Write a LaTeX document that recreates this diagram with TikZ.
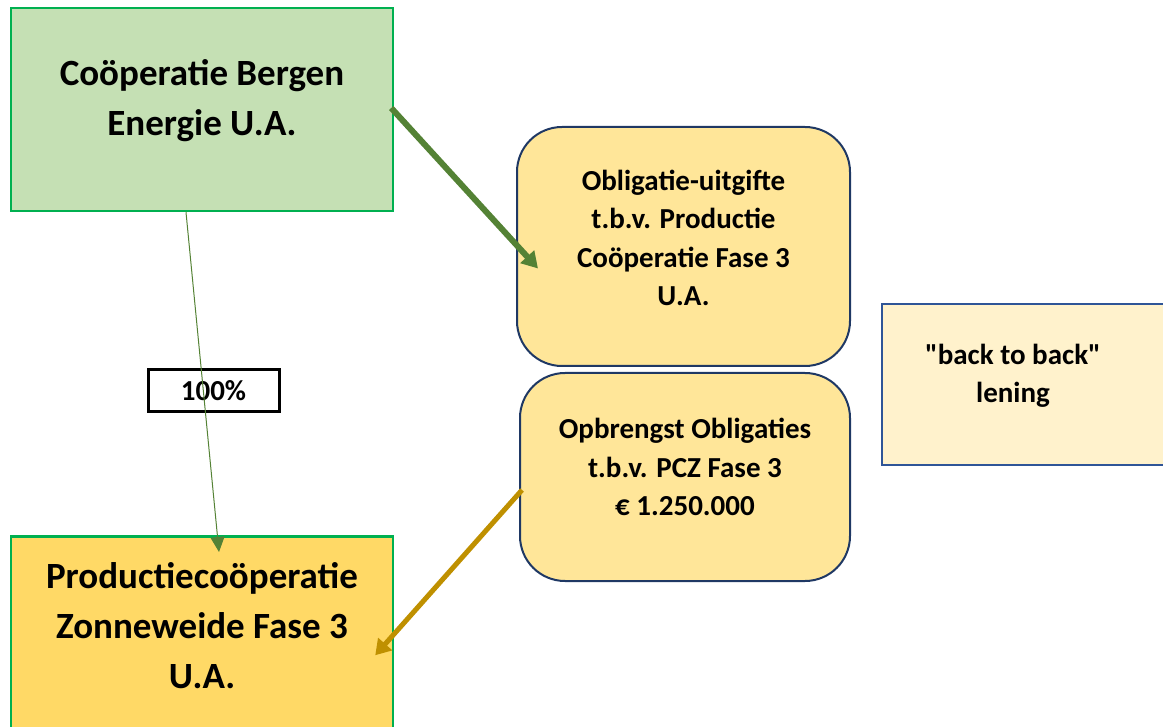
\documentclass[tikz,border=0pt]{standalone}
\usepackage{fontspec}
\setmainfont{Carlito}
\usetikzlibrary{arrows.meta,calc}

\definecolor{leafgreen}{HTML}{C5E0B4}
\definecolor{brightgreen}{HTML}{00B050}
\definecolor{arrowgreen}{HTML}{548235}
\definecolor{sungold}{HTML}{FFD966}
\definecolor{paleyellow}{HTML}{FFE699}
\definecolor{creamfill}{HTML}{FFF2CC}
\definecolor{navyline}{HTML}{1F3864}
\definecolor{blueline}{HTML}{2F5597}
\definecolor{darkgold}{HTML}{BF9000}

\begin{document}
\begin{tikzpicture}[x=1pt, y=-1pt,
		bigtext/.style={font=\bfseries\fontsize{37}{50}\selectfont, align=center},
		smalltext/.style={font=\bfseries\fontsize{29}{38.5}\selectfont, align=center},
		greenbox/.style={draw=brightgreen, line width=2.5pt, inner sep=0pt},
		roundbox/.style={draw=navyline, fill=paleyellow, line width=2pt, rounded corners=45pt, inner sep=0pt},
		share/.style={draw=black, fill=white, line width=3pt, inner sep=0pt}]
			%%%%% START %%%%%
			\useasboundingbox (0,0) rectangle (1163,727);
			\clip (0,0) rectangle (1163,727);
			
			% left column
			\node[greenbox, fill=leafgreen, minimum width=382pt, minimum height=203pt] (cbebox) at (202,109.5) {};
			\node[bigtext] (cbe) at (202,101) {Coöperatie Bergen\\Energie U.A.};
			
			\node[greenbox, fill=sungold, minimum width=382pt, minimum height=230pt, anchor=north] (pczbox) at (202,535) {};
			\node[bigtext] (pcz) at (202,626) {Productiecoöperatie\\Zonneweide Fase 3\\U.A.};
			
			% bonds
			\node[roundbox, minimum width=333pt, minimum height=239pt] (obl) at (683.5,246.5) {};
			\node[smalltext] (obltext) at (683.5,238) {Obligatie-uitgifte\\t.b.v. Productie\\Coöperatie Fase 3\\U.A.};
			
			\node[roundbox, minimum width=330pt, minimum height=208pt] (opb) at (685,477) {};
			\node[smalltext] (opbtext) at (685,467) {Opbrengst Obligaties\\t.b.v. PCZ Fase 3\\€ 1.250.000};
			
			% loan
			\node[draw=blueline, fill=creamfill, line width=2pt, inner sep=0pt, minimum width=330pt, minimum height=161pt, anchor=west] (btbbox) at (881,384.5) {};
			\node[smalltext] (btb) at (1013,376) {\textquotedbl back to back\textquotedbl\\lening};
			
			% 100% share
			\node[share, smalltext, minimum width=131pt, minimum height=42pt] (pct) at (213.5,391) {100\%};
			
			% connectors
			\draw[arrowgreen, line width=1pt, -{Triangle[length=15pt,width=14pt]}]
				([xshift=-16pt]cbebox.south) -- ([xshift=17pt,yshift=-17pt]pczbox.north);
			\draw[arrowgreen, line width=6pt, -{Triangle[length=16pt,width=18pt]}]
				([xshift=-3pt,yshift=1.5pt]cbebox.east) -- ([xshift=22pt,yshift=-22pt]obl.west);
			\draw[darkgold, line width=5pt, -{Triangle[length=15pt,width=18pt]}]
				([xshift=3pt,yshift=-13pt]opb.west) -- ([xshift=-19pt,yshift=-4pt]pczbox.east);
			
			%%%%% END %%%%%
\end{tikzpicture}
\end{document}
